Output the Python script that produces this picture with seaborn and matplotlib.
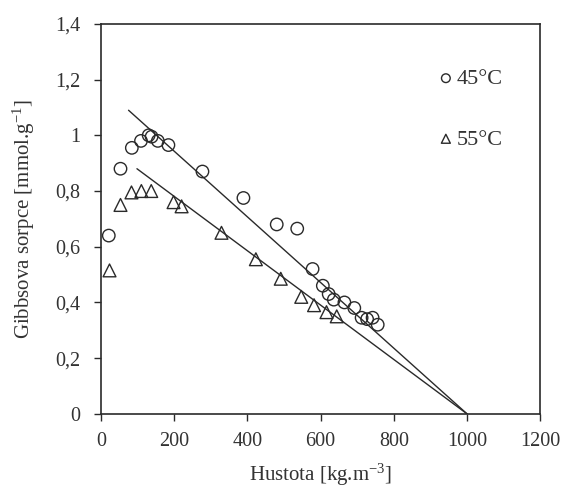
import matplotlib
matplotlib.use("Agg")
import matplotlib.pyplot as plt
import seaborn as sns
import pandas as pd
from matplotlib.ticker import FuncFormatter

# data
x45 = [21, 53, 84, 109, 130, 138, 155, 184, 277, 389, 480, 536, 578, 606, 622, 636, 665, 692, 712, 727, 742, 756]
y45 = [0.64, 0.88, 0.955, 0.98, 1.0, 0.995, 0.98, 0.965, 0.87, 0.775, 0.68, 0.665, 0.52, 0.46, 0.43, 0.41, 0.40, 0.38, 0.345, 0.34, 0.345, 0.32]
x55 = [23, 53, 83, 110, 137, 198, 220, 329, 423, 491, 547, 582, 616, 644]
y55 = [0.515, 0.75, 0.795, 0.80, 0.80, 0.76, 0.745, 0.65, 0.555, 0.485, 0.42, 0.39, 0.365, 0.35]
fit_x45 = [75, 1000]
fit_y45 = [1.09, 0.0]
fit_x55 = [98, 1000]
fit_y55 = [0.88, 0.0]
labels = ["45°C", "55°C"]
xticks = [0, 200, 400, 600, 800, 1000, 1200]
yticks = [0, 0.2, 0.4, 0.6, 0.8, 1.0, 1.2, 1.4]

sns.set_style("ticks")
plt.rcParams["font.family"] = ["Liberation Serif", "DejaVu Serif"]
plt.rcParams["mathtext.fontset"] = "custom"
plt.rcParams["mathtext.rm"] = "Liberation Serif"
plt.rcParams["mathtext.it"] = "Liberation Serif:italic"

ink = "#2a2a2a"
txt = "#333333"
fig = plt.figure(figsize=(5.68, 4.88), dpi=100)
ax = fig.add_axes([0.178, 0.152, 0.773, 0.799])

d45 = pd.DataFrame({"x": x45, "y": y45})
d55 = pd.DataFrame({"x": x55, "y": y55})
sns.scatterplot(data=d45, x="x", y="y", marker="o", s=80, facecolor="none",
                edgecolor=ink, linewidth=1.0, ax=ax, label=labels[0], zorder=3)
sns.scatterplot(data=d55, x="x", y="y", marker="^", s=85, facecolor="none",
                edgecolor=ink, linewidth=1.0, ax=ax, label=labels[1], zorder=3)
sns.lineplot(x=fit_x45, y=fit_y45, color=ink, linewidth=1.0, ax=ax, zorder=2)
sns.lineplot(x=fit_x55, y=fit_y55, color=ink, linewidth=1.0, ax=ax, zorder=2)

ax.set_xlim(0, 1200)
ax.set_ylim(0, 1.4)
ax.set_xticks(xticks)
ax.set_yticks(yticks)
ax.yaxis.set_major_formatter(FuncFormatter(lambda v, p: ("%g" % round(v, 1)).replace(".", ",")))
ax.tick_params(direction="out", length=5, width=1.0, colors=ink, labelsize=14.5,
               labelcolor=txt)
ax.tick_params(axis="y", pad=10)
ax.tick_params(axis="x", pad=8)
for s in ax.spines.values():
    s.set_color(ink)
    s.set_linewidth(1.2)
    s.set_visible(True)

ax.set_xlabel("Hustota [kg.m$^{\\mathregular{-3}}$]", fontsize=15, color=txt, labelpad=8)
ax.set_ylabel("Gibbsova sorpce [mmol.g$^{\\mathregular{-1}}$]", fontsize=15, color=txt, labelpad=13)

leg = ax.legend(loc="upper left", bbox_to_anchor=(0.727, 0.937), frameon=False,
                markerscale=0.7, handlelength=0.5, handletextpad=0.25,
                labelspacing=1.8, fontsize=16)
for t in leg.get_texts():
    t.set_color(txt)

fig.savefig("out.png", dpi=100)
